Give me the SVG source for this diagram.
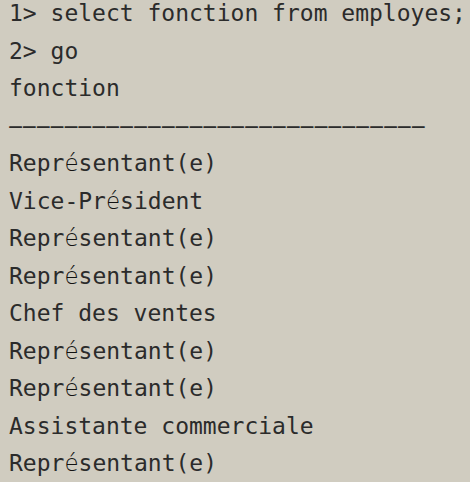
<svg xmlns="http://www.w3.org/2000/svg" width="470" height="482" viewBox="0 0 470 482">
<style>
.t{font-family:"DejaVu Sans Mono","Liberation Mono",monospace;font-size:23px;fill:#2b2b2b;white-space:pre}
.e{font-family:"DejaVu Sans","Liberation Mono",sans-serif;font-weight:200;fill:#111}
.sep{font-family:"DejaVu Sans Mono","Liberation Mono",monospace;font-size:50px;letter-spacing:-16.2px;fill:#2b2b2b;white-space:pre}
</style>
<rect width="470" height="482" fill="#d0ccc0"/>
<text class="t" x="9" y="21">1&gt; select fonction from employes;</text>
<text class="t" x="9" y="58.5">2&gt; go</text>
<text class="t" x="9" y="96">fonction</text>
<text class="sep" transform="translate(0.4,132.5) scale(1,0.47)" x="0" y="0">------------------------------</text>
<text class="t" x="9" y="171">Repr<tspan class="e">é</tspan>sentant(e)</text>
<text class="t" x="9" y="208.5">Vice-Pr<tspan class="e">é</tspan>sident</text>
<text class="t" x="9" y="246">Repr<tspan class="e">é</tspan>sentant(e)</text>
<text class="t" x="9" y="283.5">Repr<tspan class="e">é</tspan>sentant(e)</text>
<text class="t" x="9" y="321">Chef des ventes</text>
<text class="t" x="9" y="358.5">Repr<tspan class="e">é</tspan>sentant(e)</text>
<text class="t" x="9" y="396">Repr<tspan class="e">é</tspan>sentant(e)</text>
<text class="t" x="9" y="433.5">Assistante commerciale</text>
<text class="t" x="9" y="471">Repr<tspan class="e">é</tspan>sentant(e)</text>
</svg>
